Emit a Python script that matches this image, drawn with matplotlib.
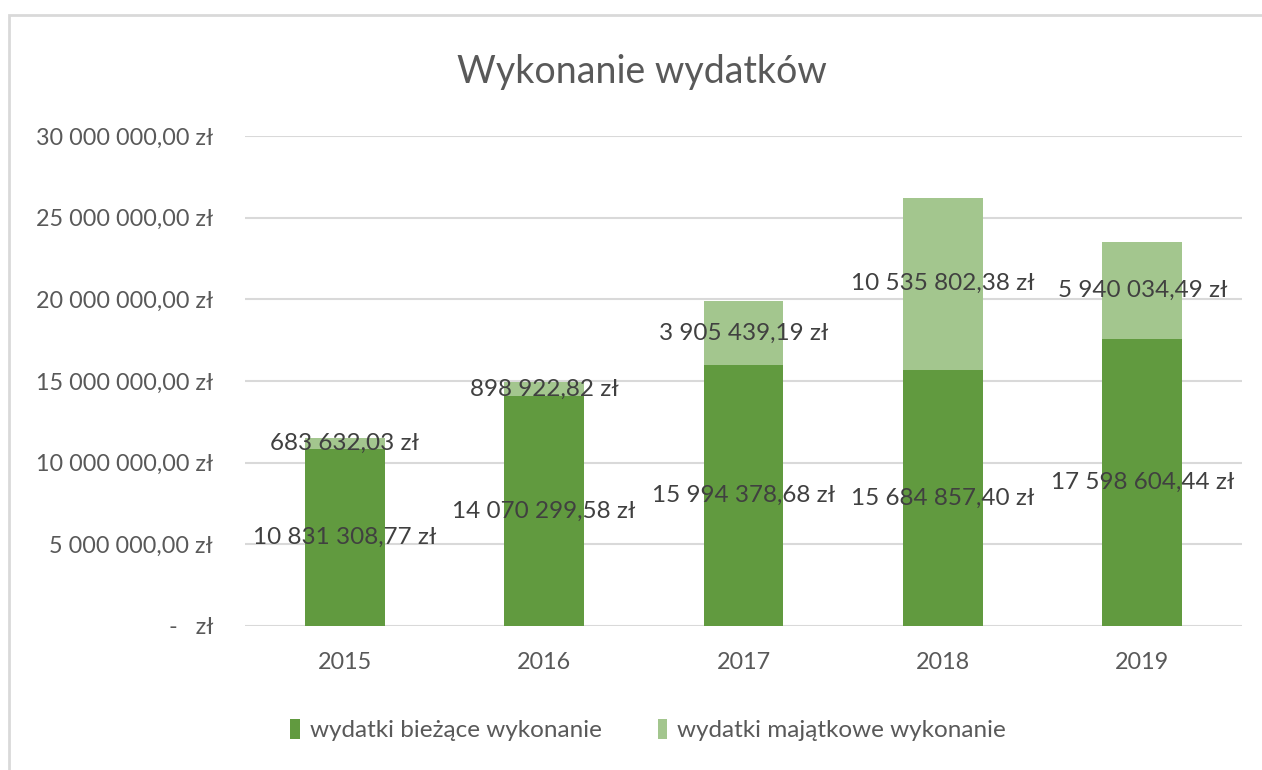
import numpy as np
import matplotlib.pyplot as plt
from matplotlib.patches import Rectangle

plt.rcParams['font.family'] = ['Lato', 'DejaVu Sans']

lata = ['2015', '2016', '2017', '2018', '2019']
biezace = [10831308.77, 14070299.58, 15994378.68, 15684857.40, 17598604.44]
majatkowe = [683632.03, 898922.82, 3905439.19, 10535802.38, 5940034.49]


def zl(v):
    if v == 0:
        return '-   zł'
    s = f'{v:,.2f}'.replace(',', ' ').replace('.', ',')
    return s + ' zł'


fig = plt.figure(figsize=(12.62, 7.7), dpi=100)
ax = fig.add_axes([245 / 1262, 1 - 626 / 770, 997 / 1262, 490 / 770])

x = np.arange(len(lata))
ciemny = '#619A3F'
jasny = '#A3C68E'
ax.bar(x, biezace, width=0.4, color=ciemny, label='wydatki bieżące wykonanie', zorder=2)
ax.bar(x, majatkowe, width=0.4, bottom=biezace, color=jasny,
       label='wydatki majątkowe wykonanie', zorder=2)

for i in range(len(lata)):
    ax.text(x[i], biezace[i] / 2, zl(biezace[i]), ha='center', va='center',
            fontsize=17.5, color='#404040', zorder=3)
    ax.text(x[i], biezace[i] + majatkowe[i] / 2, zl(majatkowe[i]), ha='center',
            va='center', fontsize=17.5, color='#404040', zorder=3)

ax.set_xlim(-0.5, 4.5)
ax.set_ylim(0, 30000000)
ticks = np.arange(0, 30000001, 5000000)
ax.set_yticks(ticks)
ax.set_yticklabels([zl(t) for t in ticks])
ax.set_xticks(x)
ax.set_xticklabels(lata)
ax.tick_params(axis='both', length=0, labelsize=16.8, labelcolor='#595959')
ax.tick_params(axis='y', pad=23)
ax.tick_params(axis='x', pad=19)
ax.grid(axis='y', color='#D9D9D9', linewidth=1.5, zorder=0)
for s in ax.spines.values():
    s.set_visible(False)

fig.suptitle('Wykonanie wydatków', x=642 / 1262, y=1 - 72 / 770, va='center',
             fontsize=27, color='#595959')

fig.legend(loc='center', bbox_to_anchor=(648 / 1262, 1 - 730 / 770), ncol=2,
           frameon=False, fontsize=17.5, labelcolor='#595959', handlelength=0.4,
           handleheight=0.9, handletextpad=0.4, columnspacing=2.3)

fig.patches.append(Rectangle((9 / 1262, -0.1), 1.2, 1 - 15 / 770 + 0.1,
                             transform=fig.transFigure, fill=False,
                             edgecolor='#D9D9D9', linewidth=2))

fig.savefig('out.png', dpi=100)
